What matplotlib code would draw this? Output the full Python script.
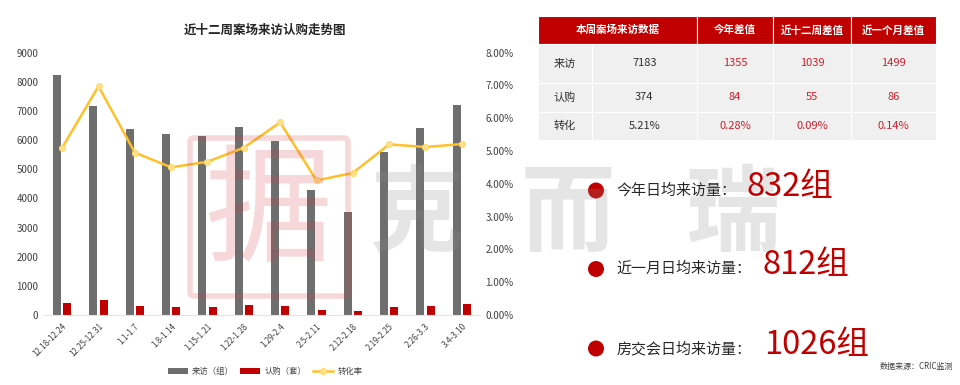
import matplotlib
matplotlib.use('Agg')
import numpy as np
import matplotlib.pyplot as plt
from matplotlib.patches import Rectangle, Circle, FancyBboxPatch

plt.rcParams['font.family'] = ['Noto Sans CJK SC', 'DejaVu Sans']

weeks = ['12.18-12.24', '12.25-12.31', '1.1-1.7', '1.8-1.14', '1.15-1.21', '1.22-1.28',
         '1.29-2.4', '2.5-2.11', '2.12-2.18', '2.19-2.25', '2.26-3.3', '3.4-3.10']
visits = [8220, 7180, 6370, 6200, 6130, 6460, 5950, 4300, 3520, 5600, 6400, 7183]
subs = [400, 500, 310, 260, 290, 330, 320, 170, 130, 280, 320, 374]
rate = [5.10, 6.97, 4.95, 4.50, 4.67, 5.10, 5.87, 4.10, 4.33, 5.20, 5.12, 5.21]

table_header = ['本周案场来访数据', '今年差值', '近十二周差值', '近一个月差值']
table_rows = [['来访', '7183', '1355', '1039', '1499'],
              ['认购', '374', '84', '55', '86'],
              ['转化', '5.21%', '0.28%', '0.09%', '0.14%']]

notes = ['今年日均来访量：', '近一月日均来访量：', '房交会日均来访量：']
note_values = ['832组', '812组', '1026组']

W, H = 960, 385
RED = '#C00000'
fig = plt.figure(figsize=(9.6, 3.85), dpi=100)

# 柱状图 + 折线
ax = fig.add_axes([44 / W, (H - 315) / H, 436 / W, 262.5 / H])
x = np.arange(len(weeks))
ax.bar(x - 0.138, visits, width=0.22, color='#6E6E6E', label='来访（组）')
ax.bar(x + 0.138, subs, width=0.22, color=RED, label='认购（套）')
ax.set_xlim(-0.5, 11.5)
ax.set_ylim(0, 9000)
ax.set_yticks(range(0, 10000, 1000))
ax.set_xticks(x)
ax.set_xticklabels(weeks, rotation=45, ha='right', rotation_mode='anchor', fontsize=5.8, color='#404040')
ax.tick_params(axis='both', length=0)
ax.tick_params(axis='y', labelsize=7, labelcolor='#404040', pad=4)
ax.tick_params(axis='x', pad=5)
for s in ['top', 'left', 'right']:
    ax.spines[s].set_visible(False)
ax.spines['bottom'].set_color('#E4E4E4')

ax2 = ax.twinx()
ax2.plot(x, rate, color='#FFC02A', lw=1.8, marker='o', ms=4.5, mfc='#FFE08A', mec='#FFD966', mew=0.6, label='转化率')
ax2.set_ylim(0, 8)
ax2.set_yticks(range(0, 9))
ax2.set_yticklabels(['%.2f%%' % v for v in range(0, 9)])
ax2.tick_params(axis='y', length=0, labelsize=7, labelcolor='#404040', pad=4)
for s in ax2.spines.values():
    s.set_visible(False)

h1, l1 = ax.get_legend_handles_labels()
h2, l2 = ax2.get_legend_handles_labels()
ax2.legend(h1 + h2, l1 + l2, ncol=3, loc='center', bbox_to_anchor=(265 / W, (H - 371) / H),
           bbox_transform=fig.transFigure, frameon=False, fontsize=6, columnspacing=0.8,
           handlelength=2.4, handletextpad=0.5, labelcolor='#404040')

# 其余内容用像素坐标
ov = fig.add_axes([0, 0, 1, 1], zorder=5)
ov.set_xlim(0, W)
ov.set_ylim(H, 0)
ov.axis('off')
ov.patch.set_alpha(0)

fig.text(265 / W, (H - 30) / H, '近十二周案场来访认购走势图', ha='center', va='center',
         fontsize=9, fontweight='bold', color='#262626')

# 水印
ov.add_patch(FancyBboxPatch((190, 138), 158, 158, boxstyle='round,pad=0,rounding_size=4', fill=False,
                            ec='#D9404A', lw=4, alpha=0.2))
ov.text(268, 216, '据', fontsize=92, color='#D9404A', alpha=0.2, ha='center', va='center')
for wx, ch in zip([417, 568, 733], '克而瑞'):
    ov.text(wx, 216, ch, fontsize=68, fontweight='bold', color='#8C8C8C', alpha=0.22, ha='center', va='center')

# 表格
edges = [537.5, 591.5, 697, 773, 851, 936]
ys = [16, 44, 83, 112, 140]
head_edges = [edges[0], edges[2], edges[3], edges[4], edges[5]]
for i, t in enumerate(table_header):
    ov.add_patch(Rectangle((head_edges[i], ys[0]), head_edges[i + 1] - head_edges[i], ys[1] - ys[0],
                           fc=RED, ec='white', lw=0.8))
    ov.text((head_edges[i] + head_edges[i + 1]) / 2, (ys[0] + ys[1]) / 2, t, color='white', fontsize=7.6,
            fontweight='bold', ha='center', va='center')
for r, row in enumerate(table_rows):
    for c, t in enumerate(row):
        ov.add_patch(Rectangle((edges[c], ys[r + 1]), edges[c + 1] - edges[c], ys[r + 2] - ys[r + 1],
                               fc='#F0F0F0', ec='white', lw=0.8))
        ov.text((edges[c] + edges[c + 1]) / 2, (ys[r + 1] + ys[r + 2]) / 2, t, fontsize=8,
                color='#C8202C' if c >= 2 else '#303030', ha='center', va='center')

# 日均来访量
for y0, xv, n, v in zip([190.5, 269, 348.5], [747, 763, 764], notes, note_values):
    ov.add_patch(Circle((596, y0), 8, fc=RED, ec='none'))
    ov.text(616, y0, n, fontsize=10.8, fontweight='medium', color='#262626', ha='left', va='center')
    ov.text(xv, y0 - 4, v, fontsize=23.5, color=RED, ha='left', va='center')
ov.text(953, 366, '数据来源：CRIC监测', fontsize=5.8, color='#404040', ha='right', va='center')

fig.savefig('out.png', dpi=100)
